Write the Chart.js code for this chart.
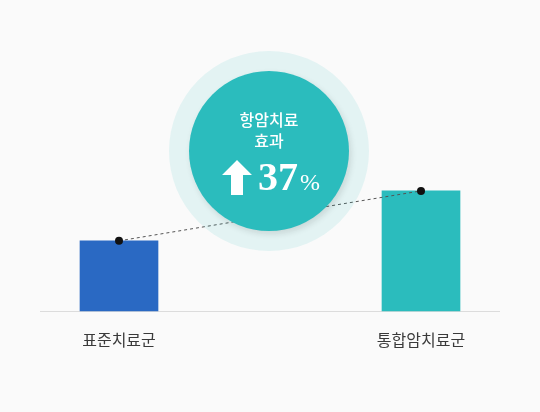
<!DOCTYPE html>
<html lang="ko">
<head>
<meta charset="utf-8">
<script src="https://cdn.jsdelivr.net/npm/chart.js@4"></script>
<style>
  body { margin: 0; background: #fafafa; }
  #wrap { position: relative; width: 540px; height: 412px; overflow: hidden; }
  #chart { position: absolute; left: 0; top: 0; }
  .ring { position: absolute; border-radius: 50%; }
  #outer { left: 169px; top: 51px; width: 200px; height: 200px; background: rgba(43, 188, 190, 0.11); }
  #inner { left: 189px; top: 71px; width: 160px; height: 160px; background: #2bbcbd;
           box-shadow: 2px 3px 6px rgba(0, 0, 0, 0.12); }
  .kr { position: absolute; width: 160px; left: 189px; text-align: center; color: #fff;
        font: 500 16px/20px "Noto Sans CJK KR", "Noto Sans", sans-serif; }
  #arrow { position: absolute; left: 222px; top: 160px; }
  #pct { position: absolute; left: 258px; top: 157px; color: #fff; white-space: nowrap;
         font-family: "Liberation Serif", "DejaVu Serif", serif; line-height: 1; }
  #pct b { font-size: 40px; font-weight: 700; }
  #pct span { font-size: 24px; margin-left: 2px; }
</style>
</head>
<body>
<div id="wrap">
  <canvas id="chart" width="540" height="412"></canvas>
  <div id="outer" class="ring"></div>
  <div id="inner" class="ring"></div>
  <div class="kr" style="top:109px">항암치료</div>
  <div class="kr" style="top:130px">효과</div>
  <svg id="arrow" width="30" height="35" viewBox="0 0 30 35">
    <polygon points="15,0 30,15 21,15 21,35 9,35 9,15 0,15" fill="#fff"/>
  </svg>
  <div id="pct"><b>37</b><span>%</span></div>
</div>
<script>
const categories = ["표준치료군", "통합암치료군"];
const barValues = [28, 48];            // relative height, scale 0–100
const barColors = ["#2a69c3", "#2bbcbd"];

// Baseline spans wider than the plot area (the bars sit on the area edges).
const baseline = {
  id: "baseline",
  beforeDatasetsDraw(c) {
    const y = Math.round(c.scales.y.getPixelForValue(0)) + 0.5;
    const ctx = c.ctx;
    ctx.save();
    ctx.strokeStyle = "#dcdcdc";
    ctx.lineWidth = 1;
    ctx.beginPath();
    ctx.moveTo(40, y);
    ctx.lineTo(500, y);
    ctx.stroke();
    ctx.restore();
  },
};

new Chart(document.getElementById("chart").getContext("2d"), {
  data: {
    labels: categories,
    datasets: [
      {
        type: "line",
        data: barValues,
        order: 0,
        clip: false,
        borderColor: "#555",
        borderWidth: 1,
        borderDash: [3, 3],
        pointRadius: 4,
        pointBorderWidth: 0,
        pointBackgroundColor: "#111",
      },
      {
        type: "bar",
        data: barValues,
        order: 1,
        clip: false,
        backgroundColor: barColors,
        barThickness: 78,
      },
    ],
  },
  options: {
    responsive: false,
    animation: false,
    layout: { padding: { left: 119, right: 119, top: 61, bottom: 50 } },
    plugins: { legend: { display: false }, tooltip: { enabled: false } },
    scales: {
      x: {
        offset: false,
        grid: { display: false },
        border: { display: false },
        ticks: {
          padding: 12,
          color: "#3a3a3a",
          font: { family: "'Noto Sans CJK KR', 'Noto Sans', sans-serif", size: 16 },
        },
      },
      y: { display: false, min: 0, max: 100 },
    },
  },
  plugins: [baseline],
});
</script>
</body>
</html>
